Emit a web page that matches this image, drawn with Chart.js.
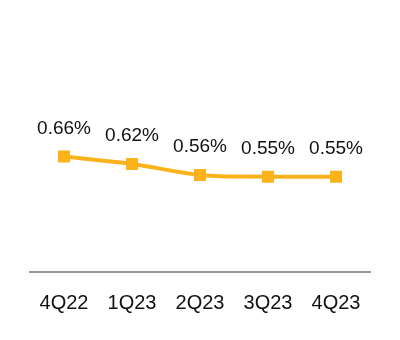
<!DOCTYPE html>
<html lang="en">
<head>
    <meta charset="UTF-8">
    <title>Ratio by quarter</title>
    <script src="https://cdn.jsdelivr.net/npm/chart.js"></script>
    <style>
        html, body { margin: 0; padding: 0; background: #fff; }
        .wrap { width: 400px; height: 340px; }
    </style>
</head>
<body>

<div class="wrap">
    <canvas id="ratioChart" width="400" height="340"></canvas>
</div>

<script>
    const quarters = ['4Q22', '1Q23', '2Q23', '3Q23', '4Q23'];
    const ratios = [0.66, 0.62, 0.56, 0.55, 0.55];

    const lineColor = '#FBB21B';

    // writes the percentage above each point
    const valueLabels = {
        id: 'valueLabels',
        afterDatasetsDraw(chart) {
            const ctx = chart.ctx;
            const meta = chart.getDatasetMeta(0);
            ctx.save();
            ctx.font = '19px "Liberation Sans", Arial, sans-serif';
            ctx.fillStyle = '#111';
            ctx.textAlign = 'center';
            ctx.textBaseline = 'middle';
            meta.data.forEach((pt, i) => {
                ctx.fillText(ratios[i].toFixed(2) + '%', pt.x, pt.y - 28);
            });
            ctx.restore();
        }
    };

    new Chart(document.getElementById('ratioChart'), {
        type: 'line',
        data: {
            labels: quarters,
            datasets: [{
                data: ratios,
                borderColor: lineColor,
                backgroundColor: lineColor,
                borderWidth: 4,
                tension: 0.35,
                pointStyle: 'rect',
                pointRadius: 8.5,
                pointHoverRadius: 8.5,
                pointBorderWidth: 0
            }]
        },
        options: {
            responsive: false,
            animation: false,
            layout: { padding: { left: 30, right: 30, top: 21, bottom: 14 } },
            plugins: {
                legend: { display: false },
                tooltip: { enabled: false }
            },
            scales: {
                x: {
                    offset: true,
                    grid: { display: false },
                    border: { display: true, color: '#999', width: 2 },
                    ticks: {
                        color: '#111',
                        padding: 11,
                        font: { family: '"Liberation Sans", Arial, sans-serif', size: 20 }
                    }
                },
                y: {
                    display: false,
                    min: 0.03,
                    max: 1.4
                }
            }
        },
        plugins: [valueLabels]
    });
</script>

</body>
</html>
